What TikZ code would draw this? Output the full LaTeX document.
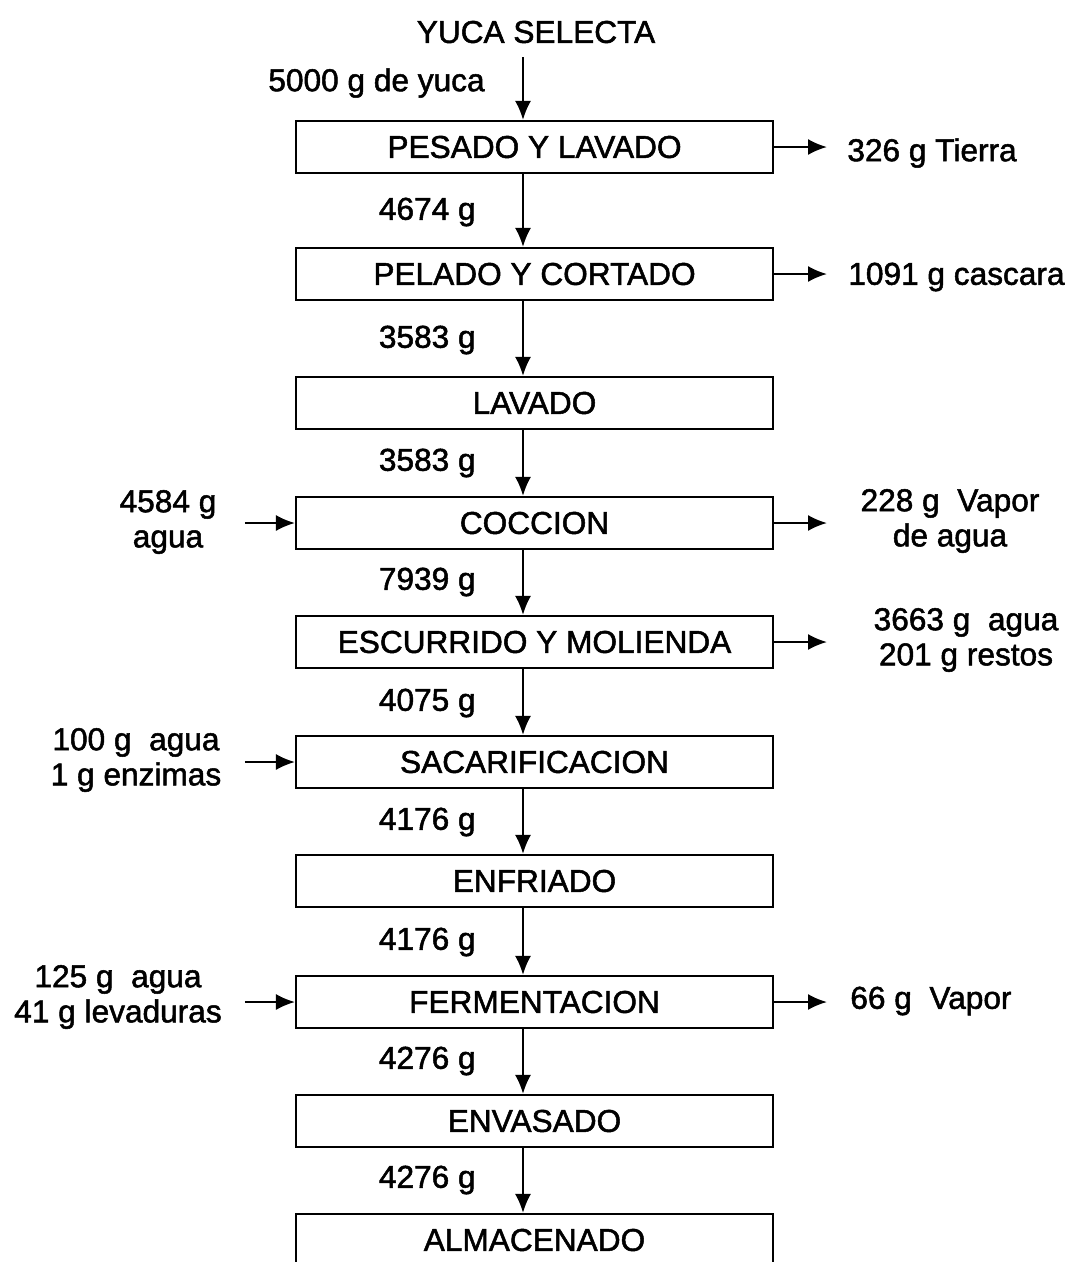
\documentclass[tikz,border=0pt]{standalone}
\usepackage{fontspec}
\setmainfont{Liberation Sans}[FakeBold=1.6]
\usetikzlibrary{arrows.meta,calc}

\begin{document}
\begin{tikzpicture}[x=0.02cm, y=-0.02cm, font=\fontsize{18}{20}\selectfont,
		etapa/.style={draw, line width=1.2pt, minimum width=9.54cm, minimum height=1.04cm, inner sep=0pt},
		flecha/.style={line width=1.2pt, -{Latex[length=0.38cm, width=0.32cm]}},
		dato/.style={inner sep=0pt, align=center}]
			\clip (0, 0) rectangle (1070, 1262);
			\coordinate (eje) at (523, 0);
			\coordinate (inicio) at (523, 57);
			\node[dato] (yuca) at (536, 32) {YUCA SELECTA};
			\node[dato, anchor=east] (entrada) at (485, 83) {5000 g de yuca};
			% etapas del proceso
			\node[etapa] (pesado) at (534.5, 147) {PESADO Y LAVADO};
			\node[etapa] (pelado) at (534.5, 274) {PELADO Y CORTADO};
			\node[etapa] (lavado) at (534.5, 403) {LAVADO};
			\node[etapa] (coccion) at (534.5, 523) {COCCION};
			\node[etapa] (escurrido) at (534.5, 642) {ESCURRIDO Y MOLIENDA};
			\node[etapa] (sacarif) at (534.5, 762) {SACARIFICACION};
			\node[etapa] (enfriado) at (534.5, 881) {ENFRIADO};
			\node[etapa] (ferment) at (534.5, 1002) {FERMENTACION};
			\node[etapa] (envasado) at (534.5, 1121) {ENVASADO};
			\node[etapa] (almacen) at (534.5, 1240) {ALMACENADO};
			% flujo principal
			\draw[flecha] (inicio) -- (pesado.north -| eje);
			\draw[flecha] (pesado.south -| eje) -- (pelado.north -| eje);
			\draw[flecha] (pelado.south -| eje) -- (lavado.north -| eje);
			\draw[flecha] (lavado.south -| eje) -- (coccion.north -| eje);
			\draw[flecha] (coccion.south -| eje) -- (escurrido.north -| eje);
			\draw[flecha] (escurrido.south -| eje) -- (sacarif.north -| eje);
			\draw[flecha] (sacarif.south -| eje) -- (enfriado.north -| eje);
			\draw[flecha] (enfriado.south -| eje) -- (ferment.north -| eje);
			\draw[flecha] (ferment.south -| eje) -- (envasado.north -| eje);
			\draw[flecha] (envasado.south -| eje) -- (almacen.north -| eje);
			% masas entre etapas
			\node[dato, anchor=east] (m1) at (476, 212) {4674 g};
			\node[dato, anchor=east] (m2) at (476, 340) {3583 g};
			\node[dato, anchor=east] (m3) at (476, 463) {3583 g};
			\node[dato, anchor=east] (m4) at (476, 582) {7939 g};
			\node[dato, anchor=east] (m5) at (476, 703) {4075 g};
			\node[dato, anchor=east] (m6) at (476, 822) {4176 g};
			\node[dato, anchor=east] (m7) at (476, 942) {4176 g};
			\node[dato, anchor=east] (m8) at (476, 1061) {4276 g};
			\node[dato, anchor=east] (m9) at (476, 1180) {4276 g};
			% salidas
			\node[dato, anchor=west] (tierra) at (847, 153) {326 g Tierra};
			\node[dato, anchor=west] (cascara) at (848, 277) {1091 g cascara};
			\node[dato] (vapor) at (950, 521) {228 g\ \ Vapor\\de agua};
			\node[dato] (restos) at (966, 640) {3663 g\ \ agua\\201 g restos};
			\node[dato, anchor=west] (vapor2) at (850, 1001) {66 g\ \ Vapor};
			\draw[flecha] (pesado.east) -- ++(53, 0);
			\draw[flecha] (pelado.east) -- ++(53, 0);
			\draw[flecha] (coccion.east) -- ++(53, 0);
			\draw[flecha] (escurrido.east) -- ++(53, 0);
			\draw[flecha] (ferment.east) -- ++(53, 0);
			% entradas
			\node[dato] (agua) at (168, 522) {4584 g\\agua};
			\node[dato] (enzimas) at (136, 760) {100 g\ \ agua\\1 g enzimas};
			\node[dato] (levadura) at (118, 997) {125 g\ \ agua\\41 g levaduras};
			\draw[flecha] ($(coccion.west)+(-50, 0)$) -- (coccion.west);
			\draw[flecha] ($(sacarif.west)+(-50, 0)$) -- (sacarif.west);
			\draw[flecha] ($(ferment.west)+(-50, 0)$) -- (ferment.west);
		\end{tikzpicture}
\end{document}
